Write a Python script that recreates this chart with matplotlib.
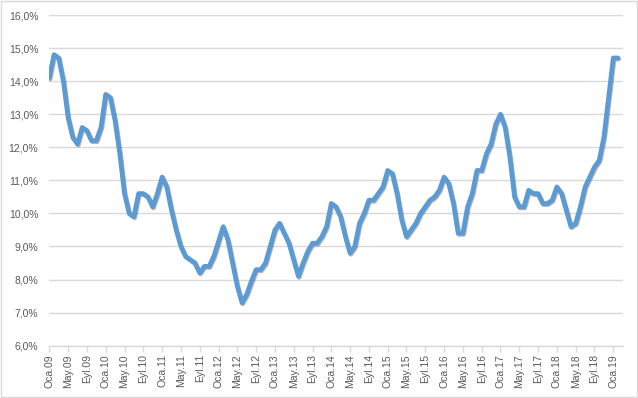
import matplotlib
matplotlib.use("Agg")
import matplotlib.pyplot as plt
import matplotlib.patheffects as pe
from matplotlib.patches import Rectangle
from matplotlib.ticker import FuncFormatter, FixedLocator


# =========================
# DATA (işsizlik oranı, %)
# =========================
rate_2009 = [14.1, 14.8, 14.7, 14.0, 12.9, 12.3, 12.1, 12.6, 12.5, 12.2, 12.2, 12.6]
rate_2010 = [13.6, 13.5, 12.8, 11.8, 10.6, 10.0, 9.9, 10.6, 10.6, 10.5, 10.2, 10.6]
rate_2011 = [11.1, 10.8, 10.1, 9.5, 9.0, 8.7, 8.6, 8.5, 8.2, 8.4, 8.4, 8.7]
rate_2012 = [9.15, 9.6, 9.2, 8.5, 7.8, 7.3, 7.55, 7.95, 8.3, 8.3, 8.5, 9.0]
rate_2013 = [9.5, 9.7, 9.4, 9.1, 8.6, 8.1, 8.5, 8.85, 9.1, 9.1, 9.3, 9.6]
rate_2014 = [10.3, 10.2, 9.9, 9.3, 8.8, 9.0, 9.7, 10.0, 10.4, 10.4, 10.6, 10.8]
rate_2015 = [11.3, 11.2, 10.6, 9.8, 9.3, 9.5, 9.7, 10.0, 10.2, 10.4, 10.5, 10.7]
rate_2016 = [11.1, 10.9, 10.3, 9.4, 9.4, 10.2, 10.6, 11.3, 11.3, 11.8, 12.1, 12.7]
rate_2017 = [13.0, 12.6, 11.7, 10.5, 10.2, 10.2, 10.7, 10.6, 10.6, 10.3, 10.3, 10.4]
rate_2018 = [10.8, 10.6, 10.1, 9.6, 9.7, 10.2, 10.8, 11.1, 11.4, 11.6, 12.3, 13.5]
rate_2019 = [14.7, 14.7]

months = ["Oca", "Şub", "Mar", "Nis", "May", "Haz",
          "Tem", "Ağu", "Eyl", "Eki", "Kas", "Ara"]
years = ["09", "10", "11", "12", "13", "14", "15", "16", "17", "18", "19"]


def build_series():
    values = (rate_2009 + rate_2010 + rate_2011 + rate_2012 + rate_2013 +
              rate_2014 + rate_2015 + rate_2016 + rate_2017 + rate_2018 +
              rate_2019)
    labels = [f"{m}.{y}" for y in years for m in months][:len(values)]
    return values, labels


# =========================
# PLOT
# =========================
def plot_unemployment():
    values, labels = build_series()
    x = list(range(len(values)))

    fig = plt.figure(figsize=(6.38, 3.98), dpi=100)
    ax = fig.add_axes([0.0773, 0.1314, 0.8987, 0.8309])

    grey_text = "#595959"
    grid_col = "#d9d9d9"

    ax.plot(x, values, color="#5B9BD5", linewidth=3.4,
            solid_joinstyle="round", solid_capstyle="round",
            path_effects=[pe.SimpleLineShadow(offset=(0.6, -0.8),
                                              shadow_color="#303030",
                                              alpha=0.35),
                          pe.Normal()])

    ax.set_ylim(6, 16)
    ax.set_xlim(0, len(values))
    ax.set_yticks(range(6, 17))
    ax.yaxis.set_major_formatter(
        FuncFormatter(lambda v, _: f"{v:.1f}".replace(".", ",") + "%"))
    ax.grid(axis="y", color=grid_col, linewidth=1)
    ax.set_axisbelow(True)

    tick_pos = x[::4]
    ax.xaxis.set_major_locator(FixedLocator(tick_pos))
    ax.set_xticklabels([labels[i] for i in tick_pos], rotation=90)

    for side in ["top", "right", "left"]:
        ax.spines[side].set_visible(False)
    ax.spines["bottom"].set_color(grid_col)
    ax.spines["bottom"].set_linewidth(1)

    ax.tick_params(axis="y", length=0, pad=8, labelsize=7.5,
                   labelcolor=grey_text)
    ax.tick_params(axis="x", length=4, width=1, color=grid_col, pad=2,
                   labelsize=7.5, labelcolor=grey_text)
    for lab in ax.get_xticklabels() + ax.get_yticklabels():
        lab.set_fontfamily("Liberation Sans")

    # çerçeve
    fig.add_artist(Rectangle((0.001, 0.002), 0.997, 0.995,
                             transform=fig.transFigure, fill=False,
                             edgecolor=grid_col, linewidth=1))

    fig.savefig("out.png", dpi=100)


# =========================
# MAIN
# =========================
if __name__ == "__main__":
    plot_unemployment()
